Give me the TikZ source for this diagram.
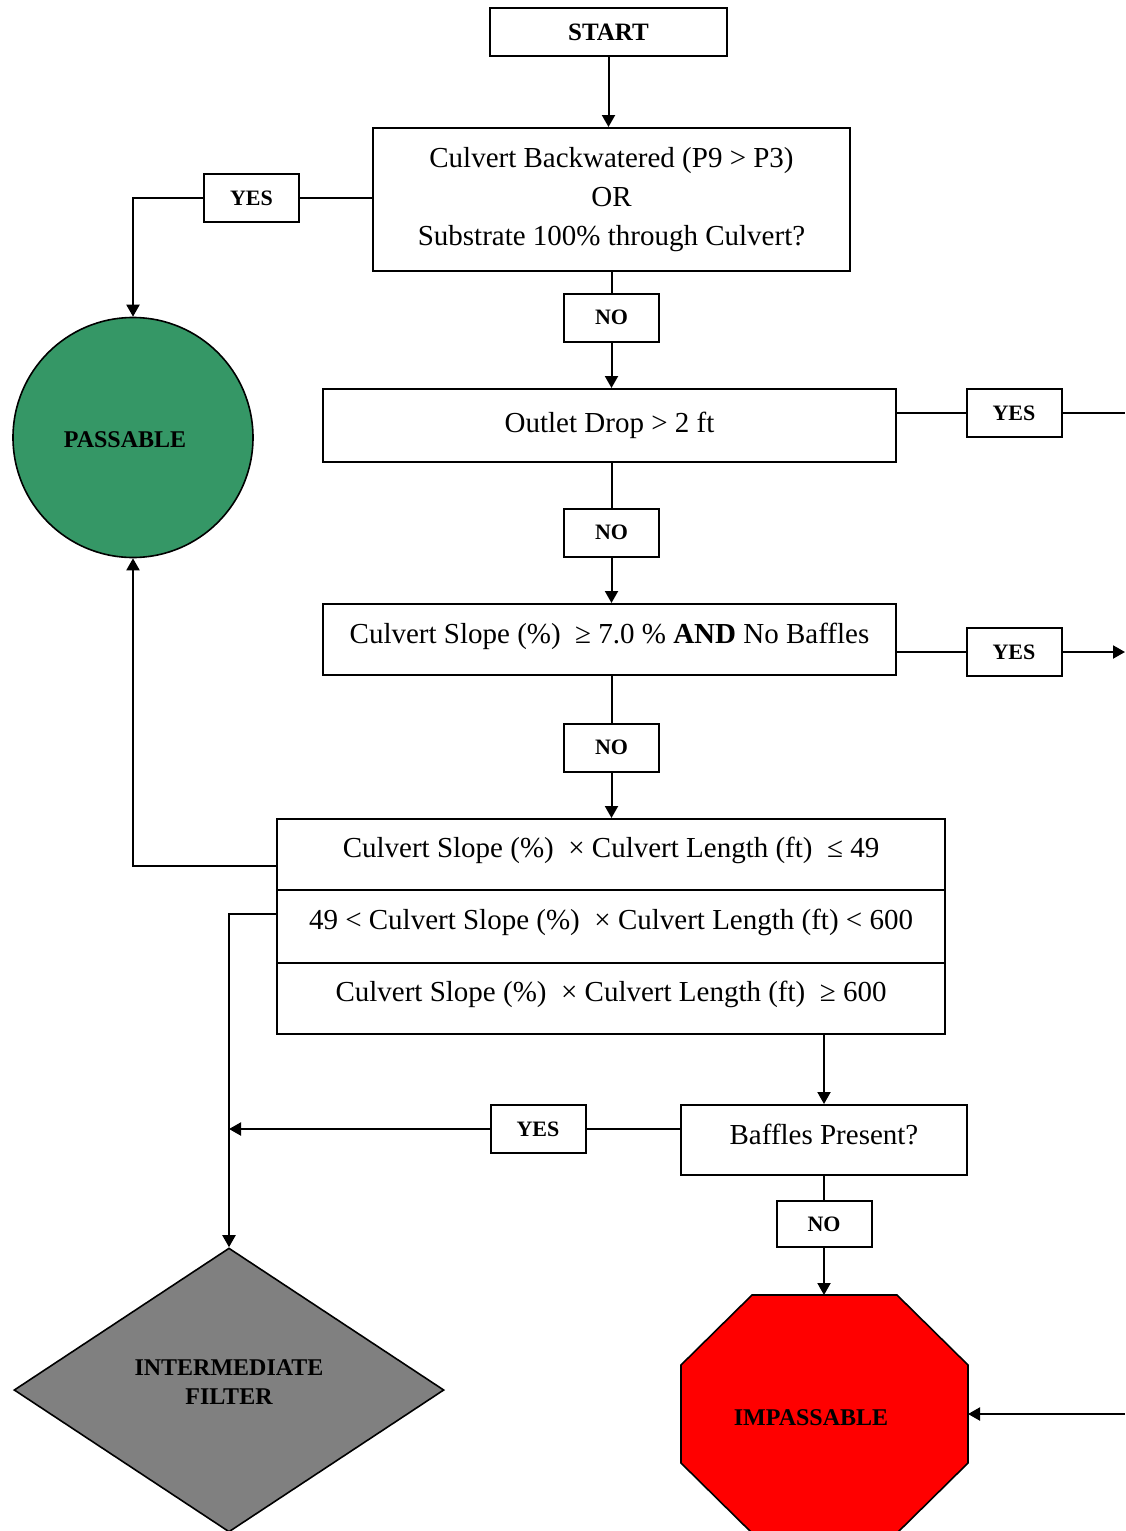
\documentclass[tikz,border=0pt]{standalone}
\usepackage{fontspec}
\setmainfont{Liberation Serif}
\usetikzlibrary{shapes.geometric,arrows.meta}
\definecolor{passgreen}{RGB}{53,151,102}
\definecolor{filtergray}{RGB}{128,128,128}
\begin{document}
\begin{tikzpicture}[x=0.5pt,y=-0.5pt,
 box/.style={draw,line width=1pt,inner sep=0pt,font=\fontsize{14.5}{19.5}\selectfont,align=center},
 lbl/.style={draw,line width=1pt,inner sep=0pt,minimum width=47.5pt,minimum height=24pt,font=\fontsize{11}{13}\selectfont\bfseries},
 big/.style={font=\fontsize{12}{14.5}\selectfont\bfseries,align=center},
 con/.style={line width=1pt,draw=black},
 arr/.style={con,-{Triangle[length=6pt,width=6.5pt]}},
]
\useasboundingbox (0,0) rectangle (1125,1531);
\clip (0,0) rectangle (1125,1531);

% boxes
\node[box,minimum width=118.5pt,minimum height=24pt,font=\fontsize{12.5}{15}\selectfont\bfseries] (start) at (608.5,32) {START};
\node[box,minimum width=238.5pt,minimum height=71.5pt] (q1) at (611.5,199.5) {Culvert Backwatered (P9 > P3)\\OR\\Substrate 100\% through Culvert?};
\node[lbl] (yes1) at (251.5,198) {YES};
\node[circle,draw,line width=0.8pt,fill=passgreen,minimum size=120pt,inner sep=0pt] (pass) at (133,437.5) {};
\node[big] (passlbl) at (125,440) {PASSABLE};
\node[lbl] (no1) at (611.5,317.5) {NO};
\node[box,minimum width=286.5pt,minimum height=36.5pt] (q2) at (609.5,425.5) {Outlet Drop > 2 ft};
\node[lbl] (yes2) at (1014,413) {YES};
\node[lbl] (no2) at (611.5,532.5) {NO};
\node[box,minimum width=286.5pt,minimum height=35.5pt] (q3) at (609.5,639.5) {\raisebox{6.5pt}{Culvert Slope (\%) \ ≥ 7.0 \% \textbf{AND} No Baffles}};
\node[lbl] (yes3) at (1014,652) {YES};
\node[lbl] (no3) at (611.5,747.5) {NO};
\node[box,minimum width=334pt,minimum height=35.5pt] (r1) at (611,854.5) {\raisebox{7.5pt}{Culvert Slope (\%) \ × Culvert Length (ft) \ ≤ 49}};
\node[box,minimum width=334pt,minimum height=36.5pt] (r2) at (611,926.5) {\raisebox{7.5pt}{49 < Culvert Slope (\%) \ × Culvert Length (ft) < 600}};
\node[box,minimum width=334pt,minimum height=35.5pt] (r3) at (611,998.5) {\raisebox{7.5pt}{Culvert Slope (\%) \ × Culvert Length (ft) \ ≥ 600}};
\node[box,minimum width=143pt,minimum height=35pt] (baf) at (824,1140) {\raisebox{6pt}{Baffles Present?}};
\node[lbl] (yes4) at (538,1129) {YES};
\node[lbl,minimum height=23pt] (no4) at (824,1224) {NO};

% intermediate filter diamond
\node[diamond,draw,line width=0.8pt,fill=filtergray,minimum width=215pt,minimum height=142pt,inner sep=0pt] (inter) at (229,1390) {};
\node[big] (interlbl) at (229,1382) {INTERMEDIATE\\FILTER};

% impassable octagon
\path[draw,line width=0.8pt,fill=red] (752,1295) -- (897,1295) -- (968,1365) -- (968,1463) -- (897,1533) -- (752,1533) -- (681,1463) -- (681,1365) -- cycle;
\coordinate (octN) at (824,1295);
\coordinate (octE) at (968,1414);
\node[big] (imp) at (811,1418) {IMPASSABLE};

% off-page ends and junction
\coordinate (offA) at (1125,413);
\coordinate (offB) at (1125,652);
\coordinate (offC) at (1125,1414);
\coordinate (join) at (229,1129);

% connectors
\draw[arr] (start.south) -- (start.south |- q1.north);
\draw[con] (q1.west |- yes1) -- (yes1.east);
\draw[arr] (yes1.west) -| (pass.north);
\draw[con] (q1.south -| no1) -- (no1.north);
\draw[arr] (no1.south) -- (no1.south |- q2.north);
\draw[con] (q2.east |- yes2) -- (yes2.west);
\draw[con] (yes2.east) -- (offA);
\draw[con] (q2.south -| no2) -- (no2.north);
\draw[arr] (no2.south) -- (no2.south |- q3.north);
\draw[con] (q3.east |- yes3) -- (yes3.west);
\draw[arr] (yes3.east) -- (offB);
\draw[con] (q3.south -| no3) -- (no3.north);
\draw[arr] (no3.south) -- (no3.south |- r1.north);
\draw[arr] ([yshift=-5.75pt]r1.west) -| (pass.south);
\draw[arr] ([yshift=6.25pt]r2.west) -| (inter.north);
\draw[arr] (r3.south -| baf.north) -- (baf.north);
\draw[con] (baf.west |- yes4) -- (yes4.east);
\draw[arr] (yes4.west) -- (join);
\draw[con] (baf.south -| no4) -- (no4.north);
\draw[arr] (no4.south) -- (octN);
\draw[arr] (offC) -- (octE);
\end{tikzpicture}
\end{document}
